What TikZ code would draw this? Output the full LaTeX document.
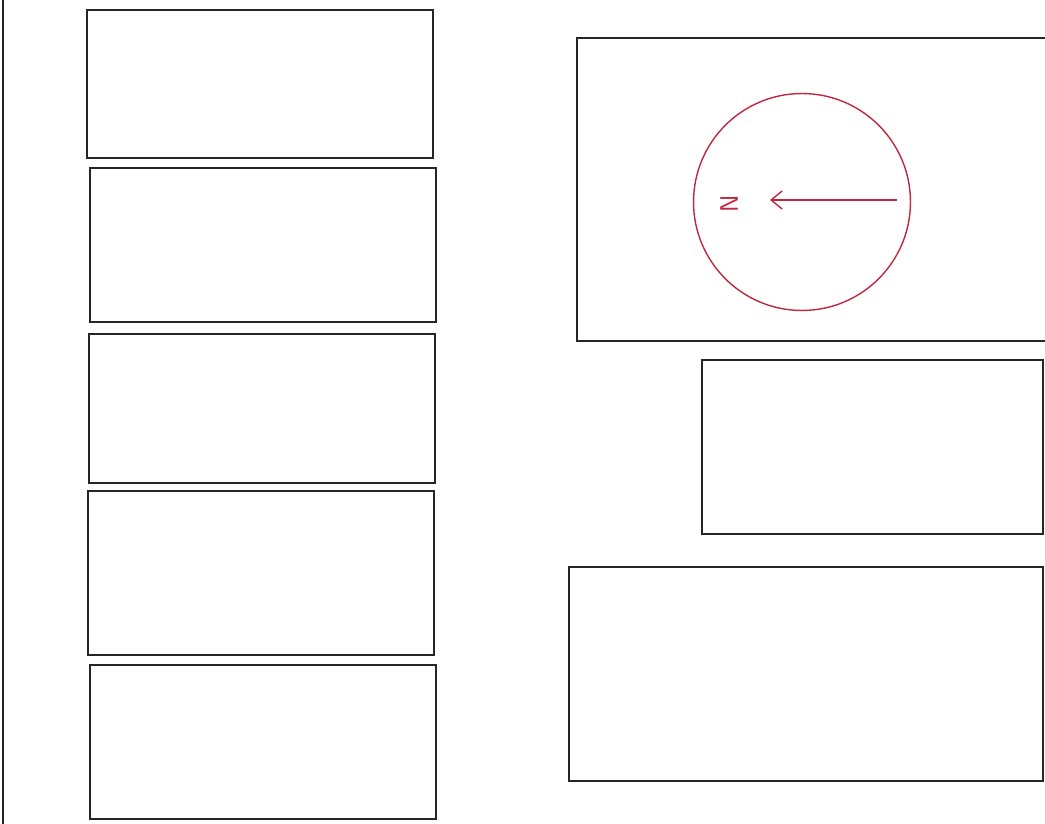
\documentclass[tikz,border=0pt]{standalone}
\usetikzlibrary{arrows.meta}
\definecolor{compassred}{RGB}{190,40,62}
\begin{document}
\begin{tikzpicture}[x=0.02cm,y=-0.02cm]
\useasboundingbox (0,0) rectangle (1045,824);
\tikzset{panel/.style={line width=0.8pt,draw=black!85}}
\draw[panel] (3,0) -- (3,824);
% left column
\draw[panel] (87,10) rectangle (433,158);
\draw[panel] (90,168) rectangle (436,322);
\draw[panel] (89,334) rectangle (435,483);
\draw[panel] (88,491) rectangle (434,655);
\draw[panel] (90,665) rectangle (436,819);
% right column
\draw[panel] (577,38) rectangle (1060,341);
\draw[panel] (702,360) rectangle (1043,534);
\draw[panel] (569,567) rectangle (1043,781);
% compass
\node[circle,draw=compassred,line width=0.8pt,minimum size=4.34cm,inner sep=0pt] (compass) at (802,202) {};
\coordinate (tail) at (897,200);
\node[text=compassred,rotate=90,font=\sffamily\Large] (north) at (729,204) {N};
\draw[compassred,line width=0.8pt,-{Straight Barb[length=0.22cm,width=0.36cm]}] (tail) -- (770,200);
\end{tikzpicture}
\end{document}
